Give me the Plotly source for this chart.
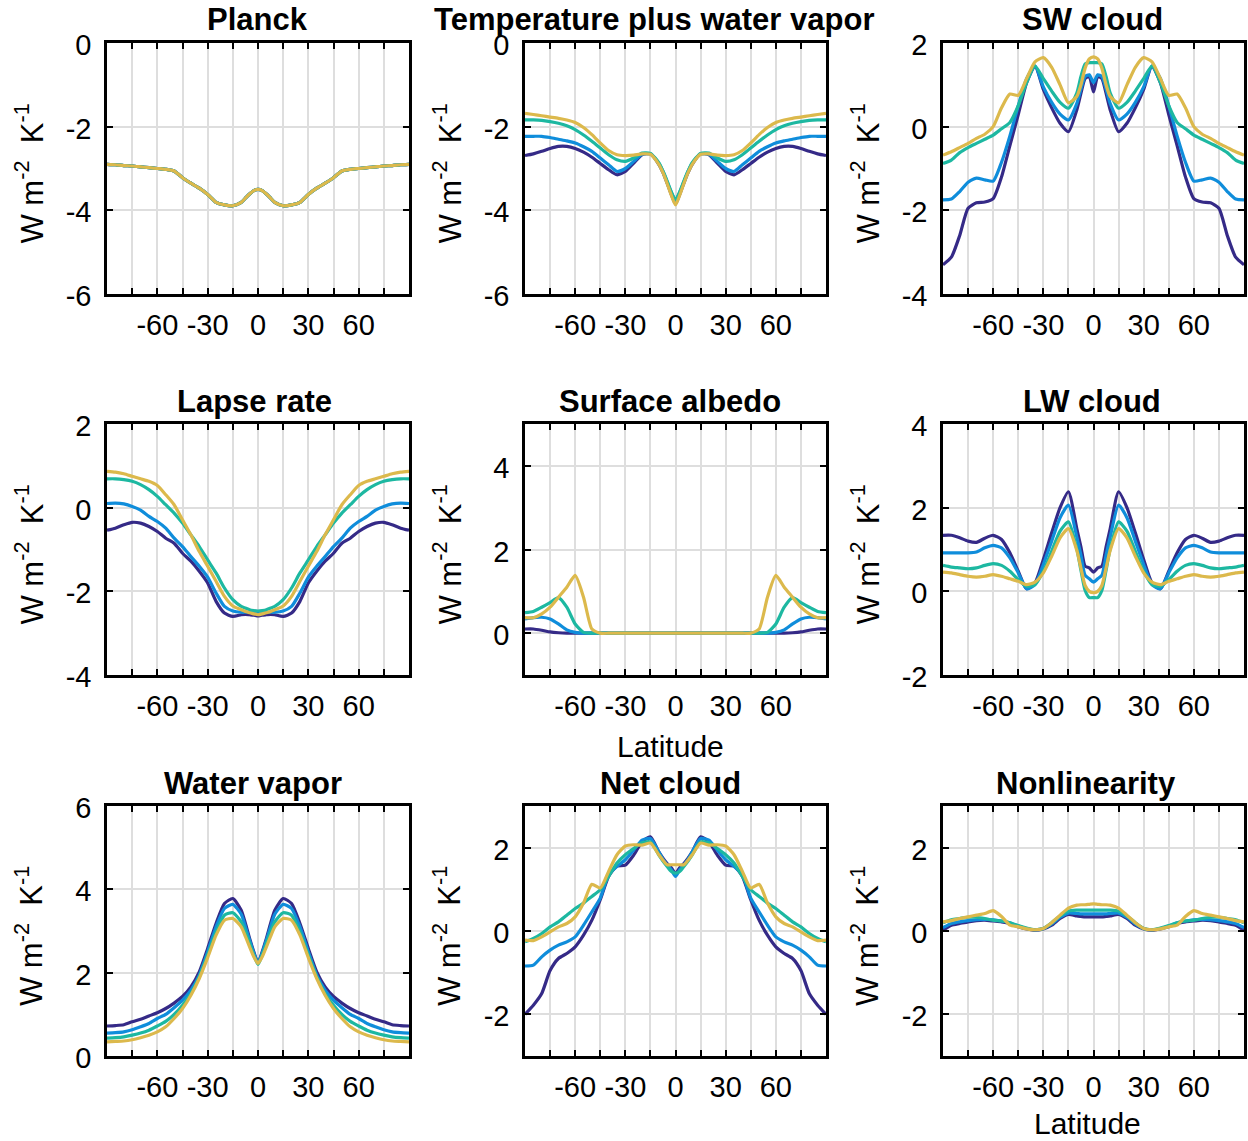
import plotly.graph_objects as go

# ---------------- data ----------------
LAT = [-90, -85, -80, -75, -70, -65, -60, -55, -50, -45, -40, -35, -30, -25, -20, -15, -10, -7.5, -5, -2.5, 0,
       2.5, 5, 7.5, 10, 15, 20, 25, 30, 35, 40, 45, 50, 55, 60, 65, 70, 75, 80, 85, 90]

XTICK_VALS = [-75, -60, -45, -30, -15, 0, 15, 30, 45, 60, 75]
XTICK_TEXT = ["", "-60", "", "-30", "", "0", "", "30", "", "60", ""]

PLANCK_S1 = [-2.90, -2.91, -2.93, -2.94, -2.96, -2.98, -3.00, -3.02, -3.06, -3.22, -3.35, -3.47, -3.62, -3.81, -3.87, -3.89, -3.81, -3.71, -3.61, -3.53, -3.50,
             -3.53, -3.61, -3.71, -3.81, -3.89, -3.87, -3.81, -3.62, -3.47, -3.35, -3.22, -3.06, -3.02, -3.00, -2.98, -2.96, -2.94, -2.93, -2.91, -2.90]
PLANCK_S2 = [-2.90, -2.91, -2.93, -2.94, -2.96, -2.98, -3.00, -3.02, -3.06, -3.22, -3.35, -3.47, -3.62, -3.81, -3.87, -3.89, -3.81, -3.71, -3.61, -3.53, -3.50,
             -3.53, -3.61, -3.71, -3.81, -3.89, -3.87, -3.81, -3.62, -3.47, -3.35, -3.22, -3.06, -3.02, -3.00, -2.98, -2.96, -2.94, -2.93, -2.91, -2.90]
PLANCK_S3 = [-2.90, -2.91, -2.93, -2.94, -2.96, -2.98, -3.00, -3.02, -3.06, -3.22, -3.35, -3.47, -3.62, -3.81, -3.87, -3.89, -3.81, -3.71, -3.61, -3.53, -3.50,
             -3.53, -3.61, -3.71, -3.81, -3.89, -3.87, -3.81, -3.62, -3.47, -3.35, -3.22, -3.06, -3.02, -3.00, -2.98, -2.96, -2.94, -2.93, -2.91, -2.90]
PLANCK_S4 = [-2.90, -2.91, -2.93, -2.94, -2.96, -2.98, -3.00, -3.02, -3.06, -3.22, -3.35, -3.47, -3.62, -3.81, -3.87, -3.89, -3.81, -3.71, -3.61, -3.53, -3.50,
             -3.53, -3.61, -3.71, -3.81, -3.89, -3.87, -3.81, -3.62, -3.47, -3.35, -3.22, -3.06, -3.02, -3.00, -2.98, -2.96, -2.94, -2.93, -2.91, -2.90]

TEMPWV_S1 = [-2.69, -2.65, -2.59, -2.52, -2.47, -2.47, -2.52, -2.61, -2.73, -2.88, -3.03, -3.15, -3.07, -2.87, -2.67, -2.65, -2.90, -3.10, -3.35, -3.62, -3.85,
             -3.62, -3.35, -3.10, -2.90, -2.65, -2.67, -2.87, -3.07, -3.15, -3.03, -2.88, -2.73, -2.61, -2.52, -2.47, -2.47, -2.52, -2.59, -2.65, -2.69]
TEMPWV_S2 = [-2.23, -2.23, -2.23, -2.26, -2.30, -2.34, -2.39, -2.48, -2.59, -2.75, -2.91, -3.07, -3.00, -2.83, -2.66, -2.65, -2.88, -3.07, -3.32, -3.57, -3.76,
             -3.57, -3.32, -3.07, -2.88, -2.65, -2.66, -2.83, -3.00, -3.07, -2.91, -2.75, -2.59, -2.48, -2.39, -2.34, -2.30, -2.26, -2.23, -2.23, -2.23]
TEMPWV_S3 = [-1.84, -1.84, -1.85, -1.88, -1.92, -1.98, -2.07, -2.20, -2.35, -2.51, -2.67, -2.79, -2.83, -2.75, -2.63, -2.64, -2.86, -3.06, -3.30, -3.56, -3.75,
             -3.56, -3.30, -3.06, -2.86, -2.64, -2.63, -2.75, -2.83, -2.79, -2.67, -2.51, -2.35, -2.20, -2.07, -1.98, -1.92, -1.88, -1.85, -1.84, -1.84]
TEMPWV_S4 = [-1.68, -1.71, -1.74, -1.77, -1.80, -1.84, -1.90, -2.02, -2.19, -2.39, -2.57, -2.67, -2.69, -2.68, -2.65, -2.66, -2.90, -3.10, -3.36, -3.64, -3.87,
             -3.64, -3.36, -3.10, -2.90, -2.66, -2.65, -2.68, -2.69, -2.67, -2.57, -2.39, -2.19, -2.02, -1.90, -1.84, -1.80, -1.77, -1.74, -1.71, -1.68]

SW_S1 = [-3.30, -3.12, -2.60, -1.95, -1.82, -1.80, -1.72, -1.20, -0.45, 0.29, 1.05, 1.45, 0.89, 0.45, 0.08, -0.12, 0.40, 0.80, 1.15, 1.20, 0.83,
         1.20, 1.15, 0.80, 0.40, -0.12, 0.08, 0.45, 0.89, 1.45, 1.05, 0.29, -0.45, -1.20, -1.72, -1.80, -1.82, -1.95, -2.60, -3.12, -3.30]
SW_S2 = [-1.75, -1.73, -1.55, -1.33, -1.23, -1.27, -1.30, -0.85, -0.22, 0.50, 1.15, 1.45, 0.95, 0.58, 0.30, 0.16, 0.55, 0.90, 1.20, 1.24, 1.05,
         1.24, 1.20, 0.90, 0.55, 0.16, 0.30, 0.58, 0.95, 1.45, 1.15, 0.50, -0.22, -0.85, -1.30, -1.27, -1.23, -1.33, -1.55, -1.73, -1.75]
SW_S3 = [-0.88, -0.80, -0.62, -0.50, -0.40, -0.30, -0.20, -0.05, 0.10, 0.50, 1.05, 1.45, 1.15, 0.85, 0.58, 0.44, 0.80, 1.20, 1.50, 1.53, 1.53,
         1.53, 1.50, 1.20, 0.80, 0.44, 0.58, 0.85, 1.15, 1.45, 1.05, 0.50, 0.10, -0.05, -0.20, -0.30, -0.40, -0.50, -0.62, -0.80, -0.88]
SW_S4 = [-0.68, -0.60, -0.50, -0.40, -0.28, -0.18, 0.00, 0.45, 0.78, 0.75, 1.15, 1.55, 1.65, 1.42, 1.00, 0.57, 0.72, 1.00, 1.40, 1.62, 1.67,
         1.62, 1.40, 1.00, 0.72, 0.57, 1.00, 1.42, 1.65, 1.55, 1.15, 0.75, 0.78, 0.45, 0.00, -0.18, -0.28, -0.40, -0.50, -0.60, -0.68]

LAPSE_S1 = [-0.54, -0.49, -0.41, -0.35, -0.37, -0.45, -0.57, -0.73, -0.85, -1.09, -1.28, -1.52, -1.80, -2.24, -2.52, -2.60, -2.56, -2.55, -2.56, -2.57, -2.59,
            -2.57, -2.56, -2.55, -2.56, -2.60, -2.52, -2.24, -1.80, -1.52, -1.28, -1.09, -0.85, -0.73, -0.57, -0.45, -0.37, -0.35, -0.41, -0.49, -0.54]
LAPSE_S2 = [0.10, 0.11, 0.09, 0.03, -0.06, -0.21, -0.33, -0.49, -0.73, -0.93, -1.17, -1.40, -1.66, -2.04, -2.36, -2.47, -2.50, -2.50, -2.50, -2.51, -2.52,
            -2.51, -2.50, -2.50, -2.50, -2.47, -2.36, -2.04, -1.66, -1.40, -1.17, -0.93, -0.73, -0.49, -0.33, -0.21, -0.06, 0.03, 0.09, 0.11, 0.10]
LAPSE_S3 = [0.69, 0.69, 0.67, 0.63, 0.55, 0.43, 0.27, 0.07, -0.13, -0.37, -0.65, -0.93, -1.25, -1.56, -1.92, -2.20, -2.36, -2.40, -2.44, -2.46, -2.47,
            -2.46, -2.44, -2.40, -2.36, -2.20, -1.92, -1.56, -1.25, -0.93, -0.65, -0.37, -0.13, 0.07, 0.27, 0.43, 0.55, 0.63, 0.67, 0.69, 0.69]
LAPSE_S4 = [0.87, 0.85, 0.81, 0.75, 0.69, 0.63, 0.53, 0.31, 0.07, -0.29, -0.65, -1.05, -1.40, -1.76, -2.12, -2.35, -2.44, -2.48, -2.51, -2.54, -2.56,
            -2.54, -2.51, -2.48, -2.44, -2.35, -2.12, -1.76, -1.40, -1.05, -0.65, -0.29, 0.07, 0.31, 0.53, 0.63, 0.69, 0.75, 0.81, 0.85, 0.87]

ALBEDO_S1 = [0.10, 0.10, 0.07, 0.03, 0.01, 0, 0, 0, 0, 0, 0, 0, 0, 0, 0, 0, 0, 0, 0, 0, 0,
             0, 0, 0, 0, 0, 0, 0, 0, 0, 0, 0, 0, 0, 0, 0, 0.01, 0.03, 0.07, 0.10, 0.10]
ALBEDO_S2 = [0.34, 0.37, 0.38, 0.34, 0.22, 0.08, 0.02, 0, 0, 0, 0, 0, 0, 0, 0, 0, 0, 0, 0, 0, 0,
             0, 0, 0, 0, 0, 0, 0, 0, 0, 0, 0, 0, 0, 0.02, 0.08, 0.22, 0.34, 0.38, 0.37, 0.34]
ALBEDO_S3 = [0.49, 0.52, 0.62, 0.73, 0.85, 0.62, 0.22, 0.02, 0, 0, 0, 0, 0, 0, 0, 0, 0, 0, 0, 0, 0,
             0, 0, 0, 0, 0, 0, 0, 0, 0, 0, 0, 0, 0.02, 0.22, 0.62, 0.85, 0.73, 0.62, 0.52, 0.49]
ALBEDO_S4 = [0.37, 0.37, 0.46, 0.62, 0.86, 1.10, 1.38, 0.86, 0.10, 0, 0, 0, 0, 0, 0, 0, 0, 0, 0, 0, 0,
             0, 0, 0, 0, 0, 0, 0, 0, 0, 0, 0, 0.10, 0.86, 1.38, 1.10, 0.86, 0.62, 0.46, 0.37, 0.37]

LW_S1 = [1.34, 1.34, 1.28, 1.20, 1.17, 1.27, 1.34, 1.24, 0.92, 0.48, 0.06, 0.20, 0.76, 1.40, 2.00, 2.38, 1.50, 1.06, 0.60, 0.56, 0.46,
         0.56, 0.60, 1.06, 1.50, 2.38, 2.00, 1.40, 0.76, 0.20, 0.06, 0.48, 0.92, 1.24, 1.34, 1.27, 1.17, 1.20, 1.28, 1.34, 1.34]
LW_S2 = [0.92, 0.92, 0.92, 0.92, 0.94, 1.04, 1.10, 1.04, 0.80, 0.44, 0.06, 0.16, 0.64, 1.20, 1.76, 2.06, 1.30, 0.86, 0.38, 0.30, 0.22,
         0.30, 0.38, 0.86, 1.30, 2.06, 1.76, 1.20, 0.64, 0.16, 0.06, 0.44, 0.80, 1.04, 1.10, 1.04, 0.94, 0.92, 0.92, 0.92, 0.92]
LW_S3 = [0.62, 0.58, 0.56, 0.54, 0.56, 0.62, 0.66, 0.62, 0.48, 0.28, 0.12, 0.16, 0.48, 0.96, 1.44, 1.66, 1.02, 0.50, 0.02, -0.15, -0.15,
         -0.15, 0.02, 0.50, 1.02, 1.66, 1.44, 0.96, 0.48, 0.16, 0.12, 0.28, 0.48, 0.62, 0.66, 0.62, 0.56, 0.54, 0.56, 0.58, 0.62]
LW_S4 = [0.46, 0.44, 0.40, 0.36, 0.34, 0.36, 0.40, 0.36, 0.30, 0.24, 0.16, 0.22, 0.44, 0.84, 1.28, 1.50, 0.98, 0.55, 0.14, 0.00, -0.03,
         0.00, 0.14, 0.55, 0.98, 1.50, 1.28, 0.84, 0.44, 0.22, 0.16, 0.24, 0.30, 0.36, 0.40, 0.36, 0.34, 0.36, 0.40, 0.44, 0.46]

WV_S1 = [0.72, 0.73, 0.75, 0.82, 0.88, 0.96, 1.04, 1.14, 1.27, 1.43, 1.66, 2.02, 2.58, 3.18, 3.66, 3.78, 3.50, 3.18, 2.82, 2.50, 2.24,
         2.50, 2.82, 3.18, 3.50, 3.78, 3.66, 3.18, 2.58, 2.02, 1.66, 1.43, 1.27, 1.14, 1.04, 0.96, 0.88, 0.82, 0.75, 0.73, 0.72]
WV_S2 = [0.55, 0.56, 0.58, 0.63, 0.70, 0.78, 0.90, 1.00, 1.16, 1.34, 1.58, 1.94, 2.50, 3.10, 3.54, 3.64, 3.40, 3.10, 2.78, 2.47, 2.23,
         2.47, 2.78, 3.10, 3.40, 3.64, 3.54, 3.10, 2.50, 1.94, 1.58, 1.34, 1.16, 1.00, 0.90, 0.78, 0.70, 0.63, 0.58, 0.56, 0.55]
WV_S3 = [0.43, 0.44, 0.46, 0.50, 0.55, 0.62, 0.72, 0.83, 1.00, 1.22, 1.50, 1.90, 2.42, 2.98, 3.38, 3.44, 3.22, 2.98, 2.70, 2.42, 2.20,
         2.42, 2.70, 2.98, 3.22, 3.44, 3.38, 2.98, 2.42, 1.90, 1.50, 1.22, 1.00, 0.83, 0.72, 0.62, 0.55, 0.50, 0.46, 0.44, 0.43]
WV_S4 = [0.34, 0.35, 0.36, 0.39, 0.44, 0.50, 0.58, 0.70, 0.90, 1.14, 1.46, 1.86, 2.36, 2.90, 3.26, 3.30, 3.10, 2.87, 2.62, 2.38, 2.22,
         2.38, 2.62, 2.87, 3.10, 3.30, 3.26, 2.90, 2.36, 1.86, 1.46, 1.14, 0.90, 0.70, 0.58, 0.50, 0.44, 0.39, 0.36, 0.35, 0.34]

NET_S1 = [-2.00, -1.78, -1.50, -0.95, -0.66, -0.54, -0.38, -0.10, 0.26, 0.75, 1.31, 1.56, 1.58, 1.82, 2.14, 2.26, 1.90, 1.75, 1.62, 1.52, 1.38,
          1.52, 1.62, 1.75, 1.90, 2.26, 2.14, 1.82, 1.58, 1.56, 1.31, 0.75, 0.26, -0.10, -0.38, -0.54, -0.66, -0.95, -1.50, -1.78, -2.00]
NET_S2 = [-0.84, -0.82, -0.62, -0.46, -0.34, -0.26, -0.14, 0.14, 0.46, 0.79, 1.35, 1.55, 1.71, 1.94, 2.18, 2.22, 1.90, 1.72, 1.59, 1.47, 1.31,
          1.47, 1.59, 1.72, 1.90, 2.22, 2.18, 1.94, 1.71, 1.55, 1.35, 0.79, 0.46, 0.14, -0.14, -0.26, -0.34, -0.46, -0.62, -0.82, -0.84]
NET_S3 = [-0.26, -0.18, -0.06, 0.10, 0.22, 0.38, 0.54, 0.67, 0.83, 0.99, 1.31, 1.63, 1.83, 1.98, 2.12, 2.14, 1.83, 1.68, 1.55, 1.43, 1.39,
          1.43, 1.55, 1.68, 1.83, 2.14, 2.12, 1.98, 1.83, 1.63, 1.31, 0.99, 0.83, 0.67, 0.54, 0.38, 0.22, 0.10, -0.06, -0.18, -0.26]
NET_S4 = [-0.22, -0.23, -0.14, -0.02, 0.10, 0.18, 0.34, 0.67, 1.12, 1.03, 1.43, 1.83, 2.04, 2.07, 2.06, 2.11, 1.83, 1.70, 1.59, 1.59, 1.59,
          1.59, 1.59, 1.70, 1.83, 2.11, 2.06, 2.07, 2.04, 1.83, 1.43, 1.03, 1.12, 0.67, 0.34, 0.18, 0.10, -0.02, -0.14, -0.23, -0.22]

NL_S1 = [0.02, 0.14, 0.18, 0.22, 0.25, 0.26, 0.24, 0.22, 0.18, 0.10, 0.05, 0.02, 0.05, 0.14, 0.30, 0.40, 0.36, 0.35, 0.34, 0.34, 0.34,
         0.34, 0.34, 0.35, 0.36, 0.40, 0.30, 0.14, 0.05, 0.02, 0.05, 0.10, 0.18, 0.22, 0.24, 0.26, 0.25, 0.22, 0.18, 0.14, 0.02]
NL_S2 = [0.08, 0.18, 0.22, 0.25, 0.27, 0.28, 0.27, 0.24, 0.20, 0.12, 0.06, 0.03, 0.06, 0.17, 0.33, 0.43, 0.42, 0.41, 0.41, 0.41, 0.41,
         0.41, 0.41, 0.41, 0.42, 0.43, 0.33, 0.17, 0.06, 0.03, 0.06, 0.12, 0.20, 0.24, 0.27, 0.28, 0.27, 0.25, 0.22, 0.18, 0.08]
NL_S3 = [0.20, 0.27, 0.30, 0.33, 0.33, 0.30, 0.26, 0.24, 0.20, 0.13, 0.07, 0.03, 0.06, 0.20, 0.36, 0.48, 0.50, 0.50, 0.50, 0.50, 0.50,
         0.50, 0.50, 0.50, 0.50, 0.48, 0.36, 0.20, 0.06, 0.03, 0.07, 0.13, 0.20, 0.24, 0.26, 0.30, 0.33, 0.33, 0.30, 0.27, 0.20]
NL_S4 = [0.22, 0.25, 0.30, 0.34, 0.38, 0.42, 0.49, 0.35, 0.14, 0.10, 0.05, 0.03, 0.06, 0.20, 0.38, 0.55, 0.62, 0.63, 0.63, 0.64, 0.65,
         0.64, 0.63, 0.63, 0.62, 0.55, 0.38, 0.20, 0.06, 0.03, 0.05, 0.10, 0.14, 0.35, 0.49, 0.42, 0.38, 0.34, 0.30, 0.25, 0.22]

TITLES = ["Planck", "Temperature plus water vapor", "SW cloud",
          "Lapse rate", "Surface albedo", "LW cloud",
          "Water vapor", "Net cloud", "Nonlinearity"]
YRANGES = [[-6, 0], [-6, 0], [-4, 2],
           [-4, 2], [-1, 5], [-2, 4],
           [0, 6], [-3, 3], [-3, 3]]
YTICKS = [[-6, -4, -2, 0], [-6, -4, -2, 0], [-4, -2, 0, 2],
          [-4, -2, 0, 2], [0, 2, 4], [-2, 0, 2, 4],
          [0, 2, 4, 6], [-2, 0, 2], [-2, 0, 2]]
SERIES = [[PLANCK_S1, PLANCK_S2, PLANCK_S3, PLANCK_S4],
          [TEMPWV_S1, TEMPWV_S2, TEMPWV_S3, TEMPWV_S4],
          [SW_S1, SW_S2, SW_S3, SW_S4],
          [LAPSE_S1, LAPSE_S2, LAPSE_S3, LAPSE_S4],
          [ALBEDO_S1, ALBEDO_S2, ALBEDO_S3, ALBEDO_S4],
          [LW_S1, LW_S2, LW_S3, LW_S4],
          [WV_S1, WV_S2, WV_S3, WV_S4],
          [NET_S1, NET_S2, NET_S3, NET_S4],
          [NL_S1, NL_S2, NL_S3, NL_S4]]
COLORS = ["#352a87", "#0f8ddb", "#1db8a1", "#dcb94c"]

# ---------------- layout ----------------
W, H = 1248, 1141
COL_PX = [(107, 409), (525, 826), (943, 1244)]
ROW_PX = [(43, 294), (424, 675), (806, 1056)]
TITLE_X = [[257, 654, 1092], [254, 670, 1092], [253, 670, 1086]]
TITLE_Y = [19, 401, 783]
YLAB_DX = 78
FONT = "Liberation Sans, Arial, Helvetica, sans-serif"

fig = go.Figure()
annotations = []

for i in range(9):
    r, c = divmod(i, 3)
    sfx = "" if i == 0 else str(i + 1)
    xa, ya = "x" + sfx, "y" + sfx
    for s, col in zip(SERIES[i], COLORS):
        fig.add_trace(go.Scatter(
            x=LAT, y=s, mode="lines", xaxis=xa, yaxis=ya,
            line=dict(color=col, width=3.2, shape="spline", smoothing=0.6),
            showlegend=False, hoverinfo="skip"))
    x0, x1 = COL_PX[c]
    y0, y1 = ROW_PX[r]
    common = dict(showgrid=True, gridcolor="#dedede", gridwidth=2,
                  ticks="inside", ticklen=6, tickwidth=2, tickcolor="black",
                  showline=True, linecolor="black", linewidth=2.5, mirror="ticks",
                  zeroline=False, automargin=False,
                  tickfont=dict(family=FONT, size=29, color="black"))
    fig.layout["xaxis" + sfx] = dict(
        domain=[x0 / W, x1 / W], anchor=ya, range=[-90, 90],
        tickmode="array", tickvals=XTICK_VALS, ticktext=XTICK_TEXT,
        ticklabelstandoff=3, **common)
    fig.layout["yaxis" + sfx] = dict(
        domain=[1 - y1 / H, 1 - y0 / H], anchor=xa, range=YRANGES[i],
        tickmode="array", tickvals=YTICKS[i], ticktext=[str(v) for v in YTICKS[i]],
        ticklabelstandoff=7, ticklabelshift=2, **common)
    annotations.append(dict(
        text="<b>" + TITLES[i] + "</b>", x=TITLE_X[r][c] / W, y=1 - TITLE_Y[r] / H,
        xref="paper", yref="paper", xanchor="center", yanchor="middle", showarrow=False,
        font=dict(family=FONT, size=31, color="black")))
    annotations.append(dict(
        text="W m<sup>-2</sup>\u00a0 K<sup>-1</sup>", textangle=-90,
        x=(x0 - YLAB_DX) / W, y=1 - ((y0 + y1) / 2 + 5) / H,
        xref="paper", yref="paper", xanchor="center", yanchor="middle", showarrow=False,
        font=dict(family=FONT, size=31, color="black")))

for (lx, ly) in [(670, 746), (1087, 1123)]:
    annotations.append(dict(
        text="Latitude", x=lx / W, y=1 - ly / H, xref="paper", yref="paper",
        xanchor="center", yanchor="middle", showarrow=False,
        font=dict(family=FONT, size=30, color="black")))

fig.update_layout(
    width=W, height=H, margin=dict(l=0, r=0, t=0, b=0, autoexpand=False),
    paper_bgcolor="white", plot_bgcolor="white",
    annotations=annotations, showlegend=False)

fig.write_html("out.html")
